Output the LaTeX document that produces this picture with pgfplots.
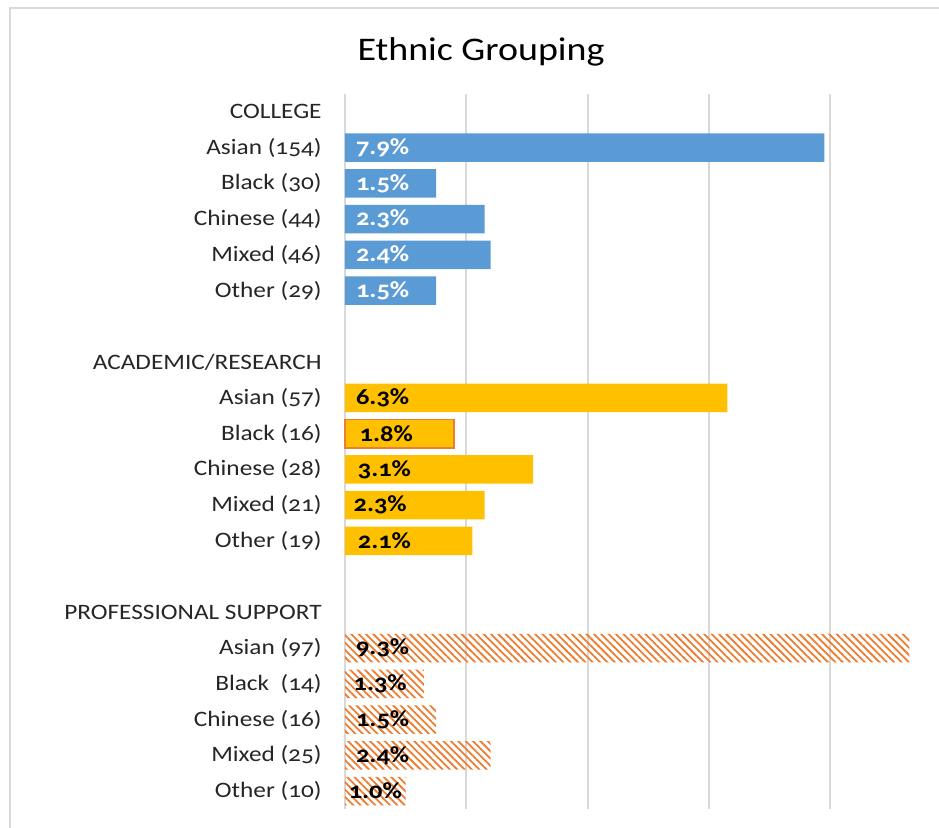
\documentclass[border=0pt]{standalone}
\usepackage{fontspec}
\setmainfont{Carlito}[Numbers=OldStyle, FakeStretch=1.15]
\usepackage{pgfplots}
\pgfplotsset{compat=1.18}
\usetikzlibrary{patterns.meta}
\definecolor{cblue}{HTML}{5B9BD5}
\definecolor{cgold}{HTML}{FFC000}
\definecolor{corange}{HTML}{ED7D31}
\definecolor{cgrid}{HTML}{D9D9D9}
\begin{document}
\begin{tikzpicture}
\useasboundingbox (0pt,0pt) rectangle (469.5pt,-413.5pt);
\clip (0pt,0pt) rectangle (469.5pt,-413.5pt);
\draw[cgrid, line width=0.8pt] (5pt,-500pt) -- (5pt,-4pt) -- (600pt,-4pt);
\node[font=\fontsize{16.5}{20}\selectfont] at (240.5pt,-26pt) {Ethnic Grouping};
\begin{axis}[
  at={(172.5pt,-404.5pt)}, anchor=south west,
  scale only axis, width=297pt, height=357.5pt,
  xmin=0, xmax=9.79, ymin=-0.5, ymax=19.5, y dir=reverse,
  axis line style={draw=none},
  xmajorgrids, grid style={cgrid, line width=1pt},
  xtick={0,2,4,6,8}, xticklabels={},
  ytick={0,...,19},
  yticklabels={COLLEGE, Asian (154), Black (30), Chinese (44), Mixed (46), Other (29), {},
    ACADEMIC/RESEARCH, Asian (57), Black (16), Chinese (28), Mixed (21), Other (19), {},
    PROFESSIONAL SUPPORT, Asian (97), Black\ \ (14), Chinese (16), Mixed (25), Other (10)},
  major tick length=0pt,
  yticklabel style={font=\fontsize{11}{13}\selectfont, inner sep=0pt, xshift=-11.5pt, text=black!85},
  clip=false,
]
\addplot[xbar, bar width=0.8, bar shift=0pt, fill=cblue, draw=none]
  coordinates {(7.9,1) (1.5,2) (2.3,3) (2.4,4) (1.5,5)};
\addplot[xbar, bar width=0.8, bar shift=0pt, fill=cgold, draw=none]
  coordinates {(6.3,8) (3.1,10) (2.3,11) (2.1,12)};
\addplot[xbar, bar width=0.8, bar shift=0pt, fill=cgold, draw=corange, line width=0.8pt]
  coordinates {(1.8,9)};
\addplot[xbar, bar width=0.8, bar shift=0pt, draw=none,
  pattern={Lines[angle=-45,distance=2.6pt,line width=0.9pt]}, pattern color=corange]
  coordinates {(9.3,15) (1.3,16) (1.5,17) (2.4,18) (1.0,19)};
\addplot[draw=none, mark=none, nodes near coords, point meta=explicit symbolic,
  every node near coord/.append style={anchor=center, text=white,
    font=\bfseries\fontsize{11.5}{13}\selectfont}]
  coordinates {(0.62,1) [7.9\%] (0.62,2) [1.5\%] (0.62,3) [2.3\%] (0.62,4) [2.4\%] (0.62,5) [1.5\%]};
\addplot[draw=none, mark=none, nodes near coords, point meta=explicit symbolic,
  every node near coord/.append style={anchor=center, text=black,
    font=\bfseries\fontsize{11.5}{13}\selectfont}]
  coordinates {(0.62,8) [6.3\%] (0.68,9) [1.8\%] (0.65,10) [3.1\%] (0.58,11) [2.3\%] (0.65,12) [2.1\%]
    (0.62,15) [9.3\%] (0.58,16) [1.3\%] (0.62,17) [1.5\%] (0.62,18) [2.4\%] (0.5,19) [1.0\%]};
\end{axis}
\end{tikzpicture}
\end{document}
